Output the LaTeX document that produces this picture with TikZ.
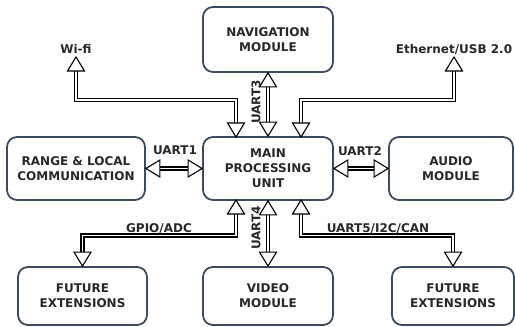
\documentclass[tikz,border=0pt]{standalone}
\usepackage{fontspec}
\setmainfont{DejaVu Sans}
\usetikzlibrary{calc}
\definecolor{boxline}{RGB}{60,75,95}
\definecolor{txt}{RGB}{40,40,40}
\tikzset{
  box/.style={draw=boxline, line width=1.8pt, rounded corners=10pt, fill=white,
    align=center, text=txt, font=\fontsize{12}{15}\selectfont\bfseries, inner sep=2pt},
  lbl/.style={text=txt, font=\fontsize{12}{14}\selectfont\bfseries, inner sep=1pt},
  dbl/.style={draw=black, line width=1.1pt, double=white, double distance=1.9pt,
    shorten <=12pt, shorten >=12pt},
  tipst/.style={draw=black, fill=white, line width=1.1pt, line join=miter}
}
\newcommand\tipU[1]{\draw[tipst] (#1) -- ++(-8.5,14) -- ++(17,0) -- cycle;}
\newcommand\tipD[1]{\draw[tipst] (#1) -- ++(-8.5,-14) -- ++(17,0) -- cycle;}
\newcommand\tipL[1]{\draw[tipst] (#1) -- ++(14,-8.5) -- ++(0,17) -- cycle;}
\newcommand\tipR[1]{\draw[tipst] (#1) -- ++(-14,-8.5) -- ++(0,17) -- cycle;}
\begin{document}
\begin{tikzpicture}[x=1pt, y=-1pt]
\useasboundingbox (0,0) rectangle (515,327);
% boxes
\node[box, minimum width=130pt, minimum height=65pt] (nav) at (268,39.5) {NAVIGATION\\MODULE};
\node[box, minimum width=130pt, minimum height=63pt] (main) at (268,168.5) {MAIN\\PROCESSING\\UNIT};
\node[box, minimum width=138pt, minimum height=63pt] (range) at (76,168.5) {RANGE \& LOCAL\\COMMUNICATION};
\node[box, minimum width=124pt, minimum height=63pt] (audio) at (451,168.5) {AUDIO\\MODULE};
\node[box, minimum width=129pt, minimum height=58pt] (futL) at (82.5,296) {FUTURE\\EXTENSIONS};
\node[box, minimum width=130pt, minimum height=58pt] (video) at (268,296) {VIDEO\\MODULE};
\node[box, minimum width=122pt, minimum height=58pt] (futR) at (453,296) {FUTURE\\EXTENSIONS};
% external labels
\node[lbl] (wifi) at (76,49) {Wi-fi};
\node[lbl] (eth) at (454,49) {Ethernet/USB 2.0};
% helper coordinates
\coordinate (wt) at (76,57);
\coordinate (et) at (454,57);
\coordinate (mw) at (236,137);
\coordinate (me) at (301,137);
\coordinate (mg) at (236,200);
\coordinate (mu) at (301,200);
\coordinate (ty) at (0,100);
\coordinate (by) at (0,235.5);
% connectors
\draw[dbl] (mw) -- (mw |- ty) -| (wt);
\draw[dbl] (me) -- (me |- ty) -| (et);
\draw[dbl] (nav.south) -- (main.north);
\draw[dbl] (range.east) -- (main.west);
\draw[dbl] (main.east) -- (audio.west);
\draw[dbl] (mg) -- (mg |- by) -| (futL.north);
\draw[dbl] (main.south) -- (video.north);
\draw[dbl] (mu) -- (mu |- by) -| (futR.north);
% tips
\tipD{mw} \tipU{wt}
\tipD{me} \tipU{et}
\tipU{nav.south} \tipD{main.north}
\tipL{range.east} \tipR{main.west}
\tipL{main.east} \tipR{audio.west}
\tipU{mg} \tipD{futL.north}
\tipU{main.south} \tipD{video.north}
\tipU{mu} \tipD{futR.north}
% connector labels
\node[lbl, rotate=90] (u3) at (256,102) {UART3};
\node[lbl, rotate=90] (u4) at (256,228) {UART4};
\node[lbl] (u1) at (175,150) {UART1};
\node[lbl] (u2) at (360,151) {UART2};
\node[lbl] (gp) at (159,229) {GPIO/ADC};
\node[lbl] (u5) at (378,229) {UART5/I2C/CAN};
\end{tikzpicture}
\end{document}
